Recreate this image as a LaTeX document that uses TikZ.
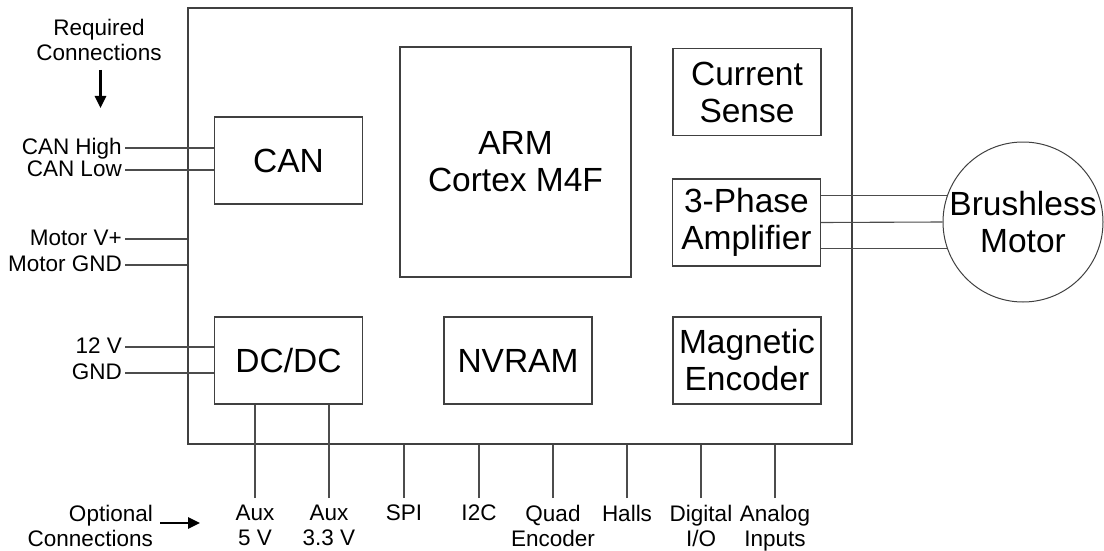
\documentclass[tikz,border=0pt]{standalone}
\usepackage{fontspec}
\setmainfont{Liberation Sans}
\usepackage{tikz}
\usetikzlibrary{arrows.meta, positioning, calc}

\begin{document}
\begin{tikzpicture}[
  x=1pt, y=-1pt,
  box/.style={draw=black!75, line width=1.2pt, minimum width=148pt, minimum height=87pt, inner sep=0pt, align=center, font={\fontsize{33.5}{37}\selectfont}},
  bigbox/.style={draw=black!75, line width=1.2pt, minimum width=664pt, minimum height=436pt, inner sep=0pt},
  sig/.style={anchor=east, inner sep=3pt, text height=16pt, text depth=4pt, font={\fontsize{22.5}{26}\selectfont}},
  lbl/.style={align=center, inner sep=0pt, font={\fontsize{22.5}{25}\selectfont}},
  wire/.style={draw=black!70, line width=1.1pt},
  arr/.style={-{Triangle[length=12pt, width=11pt]}, line width=2.6pt},
]
  \useasboundingbox (0,0) rectangle (1104,551);

  % Board outline
  \node[bigbox] (board) at (520, 226) {};

  % Blocks on the board
  \node[box] (can) at (288.5, 160.5) {CAN};
  \node[box, minimum width=231pt, minimum height=230pt] (arm) at (515.5, 162) {ARM\\Cortex M4F};
  \node[box] (sense) at (747, 92) {Current\\Sense};
  \node[box] (amp) at (746.5, 222.5) {3-Phase\\Amplifier};
  \node[box] (dcdc) at (288.5, 360.5) {DC/DC};
  \node[box] (nvram) at (518, 360.5) {NVRAM};
  \node[box] (enc) at (747, 360.5) {Magnetic\\Encoder};

  % Motor
  \node[draw=black!75, line width=1pt, circle, minimum size=160pt, inner sep=0pt, align=center, font={\fontsize{33.5}{37}\selectfont}] (motor) at (1023, 222) {Brushless\\Motor};

  % Required connections
  \node[lbl] (req) at (99, 40) {Required\\Connections};
  \coordinate (reqtail) at (100.5, 70);
  \coordinate (reqtip) at (100.5, 108);
  \draw[arr] (reqtail) -- (reqtip);

  \node[sig] (canhi) at (125, 148) {CAN High};
  \node[sig] (canlo) at (125, 170) {CAN Low};
  \node[sig] (vplus) at (125, 239) {Motor V+};
  \node[sig] (mgnd) at (125, 265) {Motor GND};
  \node[sig] (vin) at (125, 347) {12 V};
  \node[sig] (gnd) at (125, 373) {GND};

  \draw[wire] (canhi.east) -- (canhi.east -| can.west);
  \draw[wire] (canlo.east) -- (canlo.east -| can.west);
  \draw[wire] (vplus.east) -- (vplus.east -| board.west);
  \draw[wire] (mgnd.east) -- (mgnd.east -| board.west);
  \draw[wire] (vin.east) -- (vin.east -| dcdc.west);
  \draw[wire] (gnd.east) -- (gnd.east -| dcdc.west);

  % Phase wires
  \draw[wire] (amp.east |- motor.161) -- (motor.161);
  \draw[wire] (amp.east) -- (motor.west);
  \draw[wire] (amp.east |- motor.199) -- (motor.199);

  % Optional connections
  \node[lbl, align=right, anchor=east] (opt) at (153, 526) {Optional\\Connections};
  \coordinate (opttip) at (200, 523);
  \draw[arr] ([xshift=7pt]opt.east |- opttip) -- (opttip);

  \node[lbl, anchor=north] (aux5) at (255, 505) {Aux\\5 V};
  \node[lbl, anchor=north] (aux3) at (329, 505) {Aux\\3.3 V};
  \node[lbl, anchor=north] (spi) at (404, 505) {SPI};
  \node[lbl, anchor=north] (i2c) at (479, 505) {I2C};
  \node[lbl, anchor=north] (quad) at (553, 505) {Quad\\Encoder};
  \node[lbl, anchor=north] (halls) at (627, 505) {Halls};
  \node[lbl, anchor=north] (dio) at (701, 505) {Digital\\I/O};
  \node[lbl, anchor=north] (ain) at (775, 505) {Analog\\Inputs};

  \draw[wire] ([yshift=7pt]aux5.north) -- (aux5.north |- dcdc.south);
  \draw[wire] ([yshift=7pt]aux3.north) -- (aux3.north |- dcdc.south);
  \foreach \p in {spi, i2c, quad, halls, dio, ain}
    \draw[wire] ([yshift=7pt]\p.north) -- (\p.north |- board.south);
\end{tikzpicture}
\end{document}
